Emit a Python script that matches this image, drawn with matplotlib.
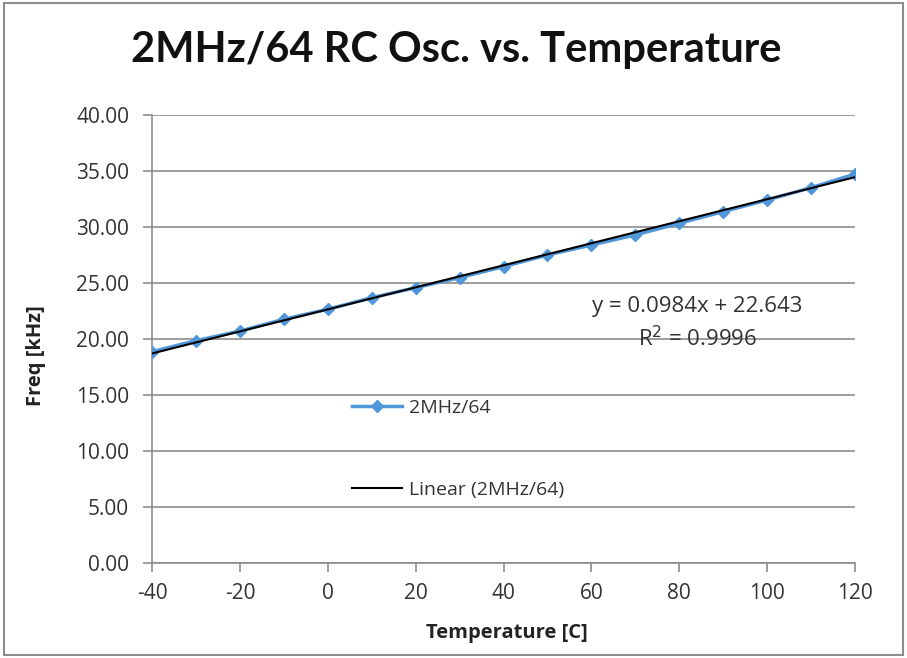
import matplotlib
matplotlib.use("Agg")
import matplotlib.pyplot as plt
import numpy as np

plt.rcParams['font.family'] = ['Open Sans', 'DejaVu Sans']
plt.rcParams['axes.unicode_minus'] = False

temps = [-40, -30, -20, -10, 0, 10, 20, 30, 40, 50, 60, 70, 80, 90, 100, 110, 120]
freqs = [18.87, 19.85, 20.71, 21.76, 22.65, 23.69, 24.58, 25.48, 26.46,
         27.50, 28.39, 29.29, 30.33, 31.37, 32.41, 33.51, 34.73]
slope = 0.0984
intercept = 22.643
r_squared = 0.9996
y_ticks = [0, 5, 10, 15, 20, 25, 30, 35, 40]
x_ticks = [-40, -20, 0, 20, 40, 60, 80, 100, 120]

fig = plt.figure(figsize=(9.07, 6.58), dpi=100)
ax = fig.add_axes([152 / 907, 1 - 563 / 658, 703 / 907, 448 / 658])

# frame around the whole picture
fig.patches.append(plt.Rectangle((0.004, 0.004), 0.992, 0.992, transform=fig.transFigure,
                                 fill=False, edgecolor='#8c8c8c', linewidth=1.5))

ax.plot(temps, freqs, color='#5096d8', linewidth=2.5, marker='D', markersize=6,
        label='2MHz/64', zorder=3)
trend_x = np.array([temps[0], temps[-1]])
ax.plot(trend_x, slope * trend_x + intercept, color='black', linewidth=1.5,
        label='Linear (2MHz/64)', zorder=4)

ax.set_xlim(-40, 120)
ax.set_ylim(0, 40)
ax.set_xticks(x_ticks)
ax.set_yticks(y_ticks)
ax.set_yticklabels([f'{v:.2f}' for v in y_ticks])
ax.yaxis.grid(True, color='#8c8c8c', linewidth=1.2)
ax.set_axisbelow(True)
for side in ['top', 'right']:
    ax.spines[side].set_visible(False)
for side in ['left', 'bottom']:
    ax.spines[side].set_color('#8c8c8c')
    ax.spines[side].set_linewidth(1.2)
ax.tick_params(axis='both', colors='#8c8c8c', length=6.5, width=1.2, labelsize=15,
               labelcolor='#333333')
ax.tick_params(axis='y', pad=10)
ax.tick_params(axis='x', pad=8)

fig.text(0.503, 1 - 50 / 658, '2MHz/64 RC Osc. vs. Temperature', fontsize=30,
         fontweight='bold', family='Lato', color='#111111', ha='center', va='center')

ax.set_xlabel('Temperature [C]', fontsize=14.5, fontweight='bold', color='#222222')
ax.set_ylabel('Freq [kHz]', fontsize=14.5, fontweight='bold', color='#222222')
ax.xaxis.label.set_va('center')
ax.yaxis.label.set_va('center')
ax.xaxis.set_label_coords(0.505, -0.156)
ax.yaxis.set_label_coords(-0.165, 0.464)

ax.text(84.1, 22.86, f'y = {slope}x + {intercept}', fontsize=16, ha='center', va='center',
        color='#333333')
ax.text(84.1, 20.0, f'R$^2$ = {r_squared}', fontsize=16, ha='center', va='center',
        color='#333333')

ax.legend(loc='upper left', bbox_to_anchor=(0.259, 0.406), frameon=False, fontsize=14,
          labelspacing=3.3, handlelength=2.6, handletextpad=0.36, labelcolor='#333333')

fig.savefig('out.png', dpi=100)
